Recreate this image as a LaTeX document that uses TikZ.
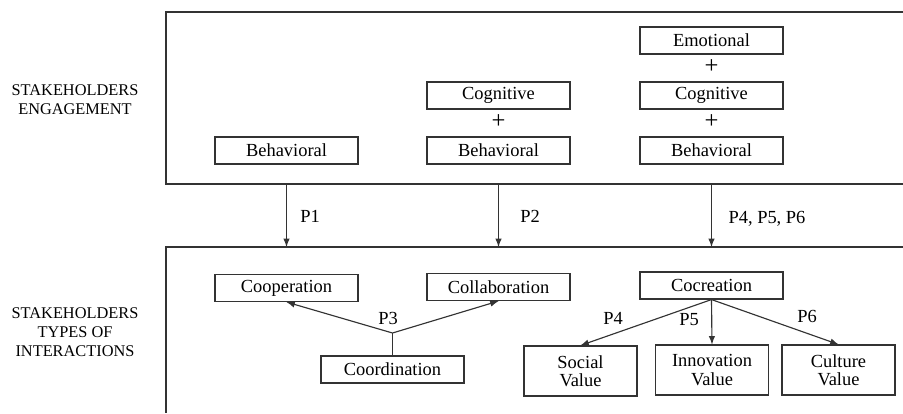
\documentclass[tikz,border=0pt]{standalone}
\usepackage{fontspec}
\setmainfont{Liberation Serif}
\usetikzlibrary{shapes,arrows,positioning}

\begin{document}
\begin{tikzpicture}[x=0.02cm, y=-0.02cm, font=\fontsize{10.5}{12}\selectfont]
			\tikzstyle{Line}	= [draw=black!80, line width=0.65pt]
			\tikzstyle{Box}		= [rectangle, Line, minimum width=2.86cm, minimum height=0.54cm, inner sep=0pt]
			\tikzstyle{ValueBox}	= [Box, minimum width=2.26cm, minimum height=1cm, align=center, font=\fontsize{10.5}{10.5}\selectfont]
			\tikzstyle{Plus}	= [inner sep=0pt, font=\fontsize{14}{14}\selectfont]
			\tikzstyle{Side}	= [align=center, font=\fontsize{9.3}{11}\selectfont]
			\tikzstyle{Arrow}	= [Line, -latex]

			\useasboundingbox (0,0) rectangle (903,413);

			% frames, open to the right and bottom
			\draw [Line] (903,12) -- (166,12) -- (166,184) -- (903,184);
			\draw [Line] (903,247) -- (166,247) -- (166,413);

			\node (eng) at (75, 99.5) [Side] {STAKEHOLDERS\\ENGAGEMENT};
			\node (int) at (75, 332) [Side] {STAKEHOLDERS\\TYPES OF\\INTERACTIONS};

			\foreach \n/\x/\y/\t in {beh1/286.5/150.5/Behavioral, cog2/498.5/95.5/Cognitive, beh2/498.5/150.5/Behavioral, emo3/711.5/40.5/Emotional, cog3/711.5/95.5/Cognitive, beh3/711.5/150.5/Behavioral, coop/286.5/288/Cooperation, collab/498.5/287/Collaboration, coord/392.5/369.5/Coordination, cocr/711.5/285.5/Cocreation}
				\node (\n) at (\x, \y) [Box] {\t};
			\foreach \n/\x/\y in {plus2/498.5/122, plus3a/711.5/66.5, plus3b/711.5/122}
				\node (\n) at (\x, \y) [Plus] {+};

			\node (social) at (580.5, 371) [ValueBox] {Social\\Value};
			\node (innov) at (712, 370) [ValueBox] {Innovation\\Value};
			\node (cult) at (838.5, 370) [ValueBox] {Culture\\Value};

			% engagement to interactions
			\foreach \i/\x in {1/286.5, 2/498.5, 3/711.5} {
				\coordinate (top\i) at (\x, 184);
				\coordinate (bot\i) at (\x, 247);
				\draw [Arrow] (top\i) to (bot\i);
			}
			\node (p1) at (310, 216) {P1};
			\node (p2) at (530, 216) {P2};
			\node (p456) at (767, 219) {P4, P5, P6};

			% coordination
			\coordinate (j) at (392.5, 333);
			\draw [Line] (coord.north) to (j);
			\foreach \b in {coop, collab}
				\draw [Arrow] (j) to (\b.south);
			\node (p3) at (388, 318) {P3};

			% cocreation
			\foreach \b in {social, innov, cult}
				\draw [Arrow] (cocr.south) to (\b.north);
			\node (p4) at (613, 318) {P4};
			\node (p5) at (689, 320) {P5};
			\node (p6) at (807, 316) {P6};
		\end{tikzpicture}
\end{document}
